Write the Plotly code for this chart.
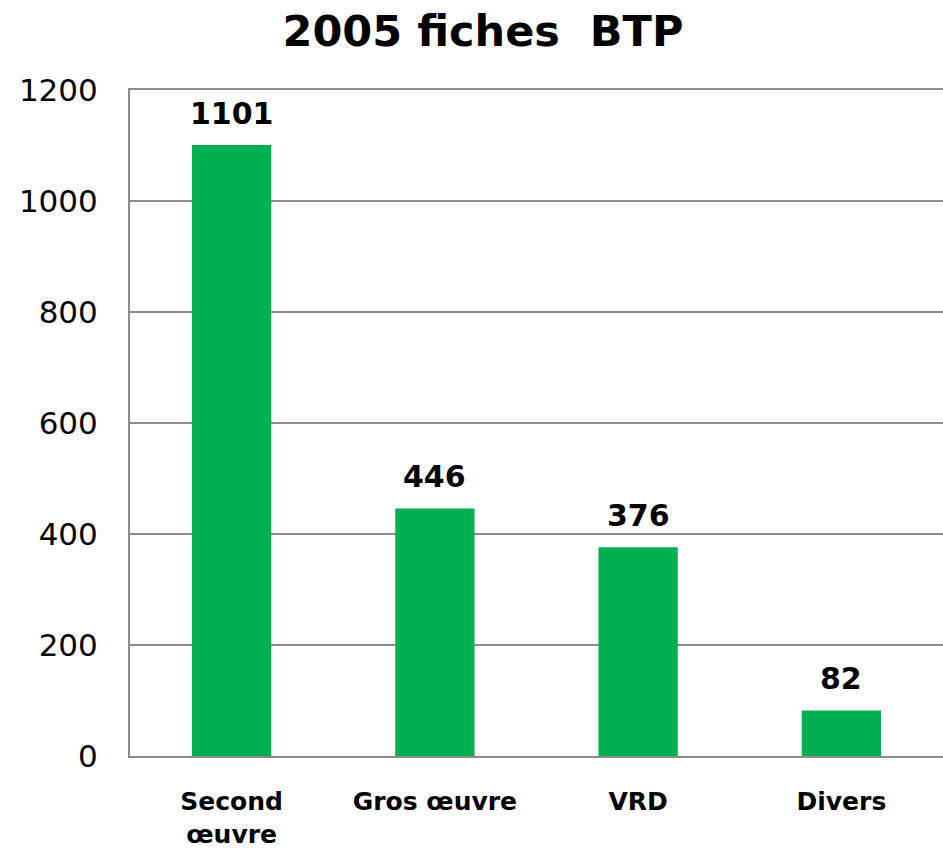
import plotly.graph_objects as go

categories = ["Second<br>œuvre", "Gros œuvre", "VRD", "Divers"]
values = [1101, 446, 376, 82]
y_ticks = [0, 200, 400, 600, 800, 1000, 1200]

fig = go.Figure(go.Bar(
    x=categories, y=values,
    marker=dict(color="#00B050", line=dict(width=0)),
    width=0.39,
    hoverinfo="x+y",
))

for c, v in zip(categories, values):
    fig.add_annotation(
        x=c, y=v, xref="x", yref="y", text=str(v), showarrow=False,
        yanchor="bottom", yshift=12,
        font=dict(family="DejaVu Sans", size=30, color="#000000", weight="bold"),
    )

fig.update_layout(
    width=943, height=848,
    margin=dict(l=130, r=0, t=90, b=92, autoexpand=False),
    paper_bgcolor="white", plot_bgcolor="white",
    title=dict(text="2005 fiches\u00a0 BTP", x=483/943, xanchor="center", xref="container",
               y=1 - 31/848, yref="container", yanchor="middle",
               font=dict(family="DejaVu Sans", size=43, color="#000000", weight="bold")),
    showlegend=False,
)

fig.update_yaxes(
    range=[0, 1200], tickvals=y_ticks, ticktext=[str(t) for t in y_ticks],
    showgrid=True, gridcolor="#8C8C8C", gridwidth=2,
    showline=True, linecolor="#8C8C8C", linewidth=2,
    ticks="", ticklen=0, ticklabelstandoff=24,
    tickfont=dict(family="DejaVu Sans", size=31, color="#000000"),
    zeroline=False, automargin=False,
)
fig.update_xaxes(
    showline=True, linecolor="#8C8C8C", linewidth=2, mirror=True,
    ticks="", showgrid=False,
    tickfont=dict(family="DejaVu Sans", size=25, color="#000000", weight="bold"),
    ticklabelstandoff=22, automargin=False,
)

fig.write_html("out.html", config={"displayModeBar": False},
               post_script="document.body.style.margin='0';document.body.style.overflow='hidden';")
